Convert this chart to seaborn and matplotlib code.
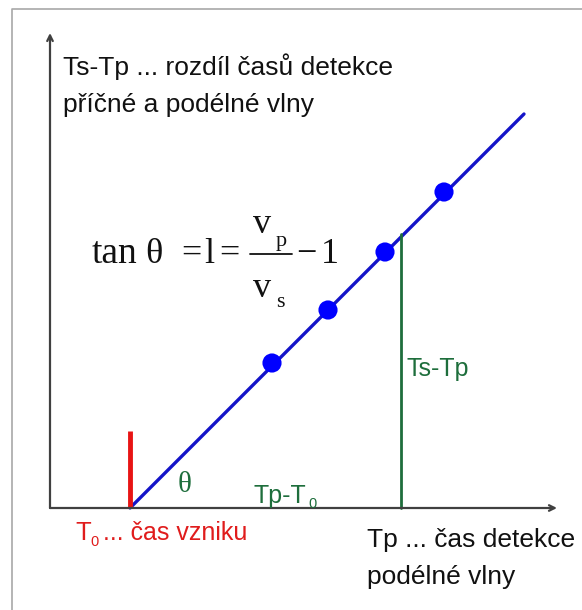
import matplotlib
matplotlib.use("Agg")
import matplotlib.pyplot as plt
from matplotlib.lines import Line2D
import seaborn as sns
import pandas as pd

# time axis in arbitrary units, origin at the axis corner
t0 = 2.0                 # T0 ... onset time
tp = 8.775               # Tp ... P-wave detection at the marked station
line_x = [2.0, 11.85]    # fitted line Ts-Tp vs Tp
line_y = [0.0, 9.85]
obs_x = [5.55, 6.95, 8.375, 9.85]   # stations
obs_y = [3.625, 4.95, 6.4, 7.9]
ts_tp_top = 6.85
t0_bar = 1.925

sns.set_theme(style="white")
plt.rcParams["font.family"] = ["Liberation Sans", "DejaVu Sans"]

BLACK = "#111111"
RED = "#e01c1c"
GREEN = "#1e6e3c"
SERIF = "Liberation Serif"


def pos(px, py):
    # layout helper: slide pixels -> data units
    return (px - 50) / 40, (508 - py) / 40


fig = plt.figure(figsize=(5.82, 6.10), dpi=100)
fig.patch.set_facecolor("white")
ax = fig.add_axes([0, 0, 1, 1])
ax.set_xlim(-1.25, 13.3)
ax.set_ylim(-2.55, 12.7)
ax.axis("off")

# frame of the slide (top and left edge only)
fx = 12 / 582
fy = 1 - 9 / 610
fig.add_artist(Line2D([fx, fx, 1], [0, fy, fy], transform=fig.transFigure,
                      color="#a8a8a8", lw=1.2))

# axes with arrows
ax.annotate("", xy=(0, 11.875), xytext=(0, 0),
            arrowprops=dict(arrowstyle="->", color="#404040", lw=1.6,
                            mutation_scale=10, shrinkA=0, shrinkB=0))
ax.annotate("", xy=(12.675, 0), xytext=(0, 0),
            arrowprops=dict(arrowstyle="->", color="#404040", lw=1.6,
                            mutation_scale=10, shrinkA=0, shrinkB=0))

# fitted line and points
df_line = pd.DataFrame({"Tp": line_x, "TsTp": line_y})
df_obs = pd.DataFrame({"Tp": obs_x, "TsTp": obs_y})
sns.lineplot(data=df_line, x="Tp", y="TsTp", ax=ax, color="#1414c8", lw=2.4)
sns.scatterplot(data=df_obs, x="Tp", y="TsTp", ax=ax, color="#0000ff",
                s=190, edgecolor="none", zorder=5)

# T0 marker and Ts-Tp segment
ax.plot([t0, t0], [0, t0_bar], color="#e81414", lw=3.5, solid_capstyle="butt")
ax.plot([tp, tp], [0, ts_tp_top], color=GREEN, lw=2.0)

# axis labels
ax.text(*pos(63, 75), "Ts-Tp ... rozdíl časů detekce", fontsize=19,
        color=BLACK, va="baseline")
ax.text(*pos(63, 112), "příčné a podélné vlny", fontsize=19,
        color=BLACK, va="baseline")
ax.text(*pos(367, 547), "Tp ... čas detekce", fontsize=19,
        color=BLACK, va="baseline")
ax.text(*pos(367, 584), "podélné vlny", fontsize=19,
        color=BLACK, va="baseline")

ax.text(*pos(75, 540), "T", fontsize=18.5, color=RED, va="baseline")
ax.text(*pos(90, 546), "0", fontsize=10.5, color=RED, va="baseline")
ax.text(*pos(103, 540), "... čas vzniku", fontsize=18, color=RED,
        va="baseline")

ax.text(*pos(407, 376), "Ts-Tp", fontsize=18, color=GREEN, va="baseline")
ax.text(*pos(254, 503), "Tp-T", fontsize=18, color=GREEN, va="baseline")
ax.text(*pos(308, 508), "0", fontsize=10.5, color=GREEN, va="baseline")
ax.text(*pos(185, 485), "θ", fontsize=21, color=GREEN, ha="center",
        va="center", family=SERIF)

# formula tan(theta) = l = vp/vs - 1
FS = 26
ax.text(*pos(92, 263), "tan", fontsize=27, color=BLACK, va="baseline",
        family=SERIF)
ax.text(*pos(145, 263), "θ", fontsize=FS, color=BLACK, va="baseline",
        family=SERIF)
ax.text(*pos(191, 263), "=", fontsize=FS, color=BLACK, va="baseline",
        ha="center", family=SERIF)
ax.text(*pos(209, 263), "l", fontsize=FS, color=BLACK, va="baseline",
        ha="center", family=SERIF)
ax.text(*pos(229, 263), "=", fontsize=FS, color=BLACK, va="baseline",
        ha="center", family=SERIF)
bx0, by = pos(250, 254)
bx1, _ = pos(292, 254)
ax.add_line(Line2D([bx0, bx1], [by, by], color=BLACK, lw=1.3))
ax.text(*pos(253, 233), "v", fontsize=FS, color=BLACK, va="baseline",
        family=SERIF)
ax.text(*pos(276, 246), "p", fontsize=16, color=BLACK, va="baseline",
        family=SERIF)
ax.text(*pos(253, 297), "v", fontsize=FS, color=BLACK, va="baseline",
        family=SERIF)
ax.text(*pos(276, 307), "s", fontsize=16, color=BLACK, va="baseline",
        family=SERIF)
ax.text(*pos(306, 263), "\u2212", fontsize=FS, color=BLACK, va="baseline",
        ha="center", family=SERIF)
ax.text(*pos(321, 263), "1", fontsize=FS, color=BLACK, va="baseline",
        family=SERIF)

fig.savefig("out.png", dpi=100)
